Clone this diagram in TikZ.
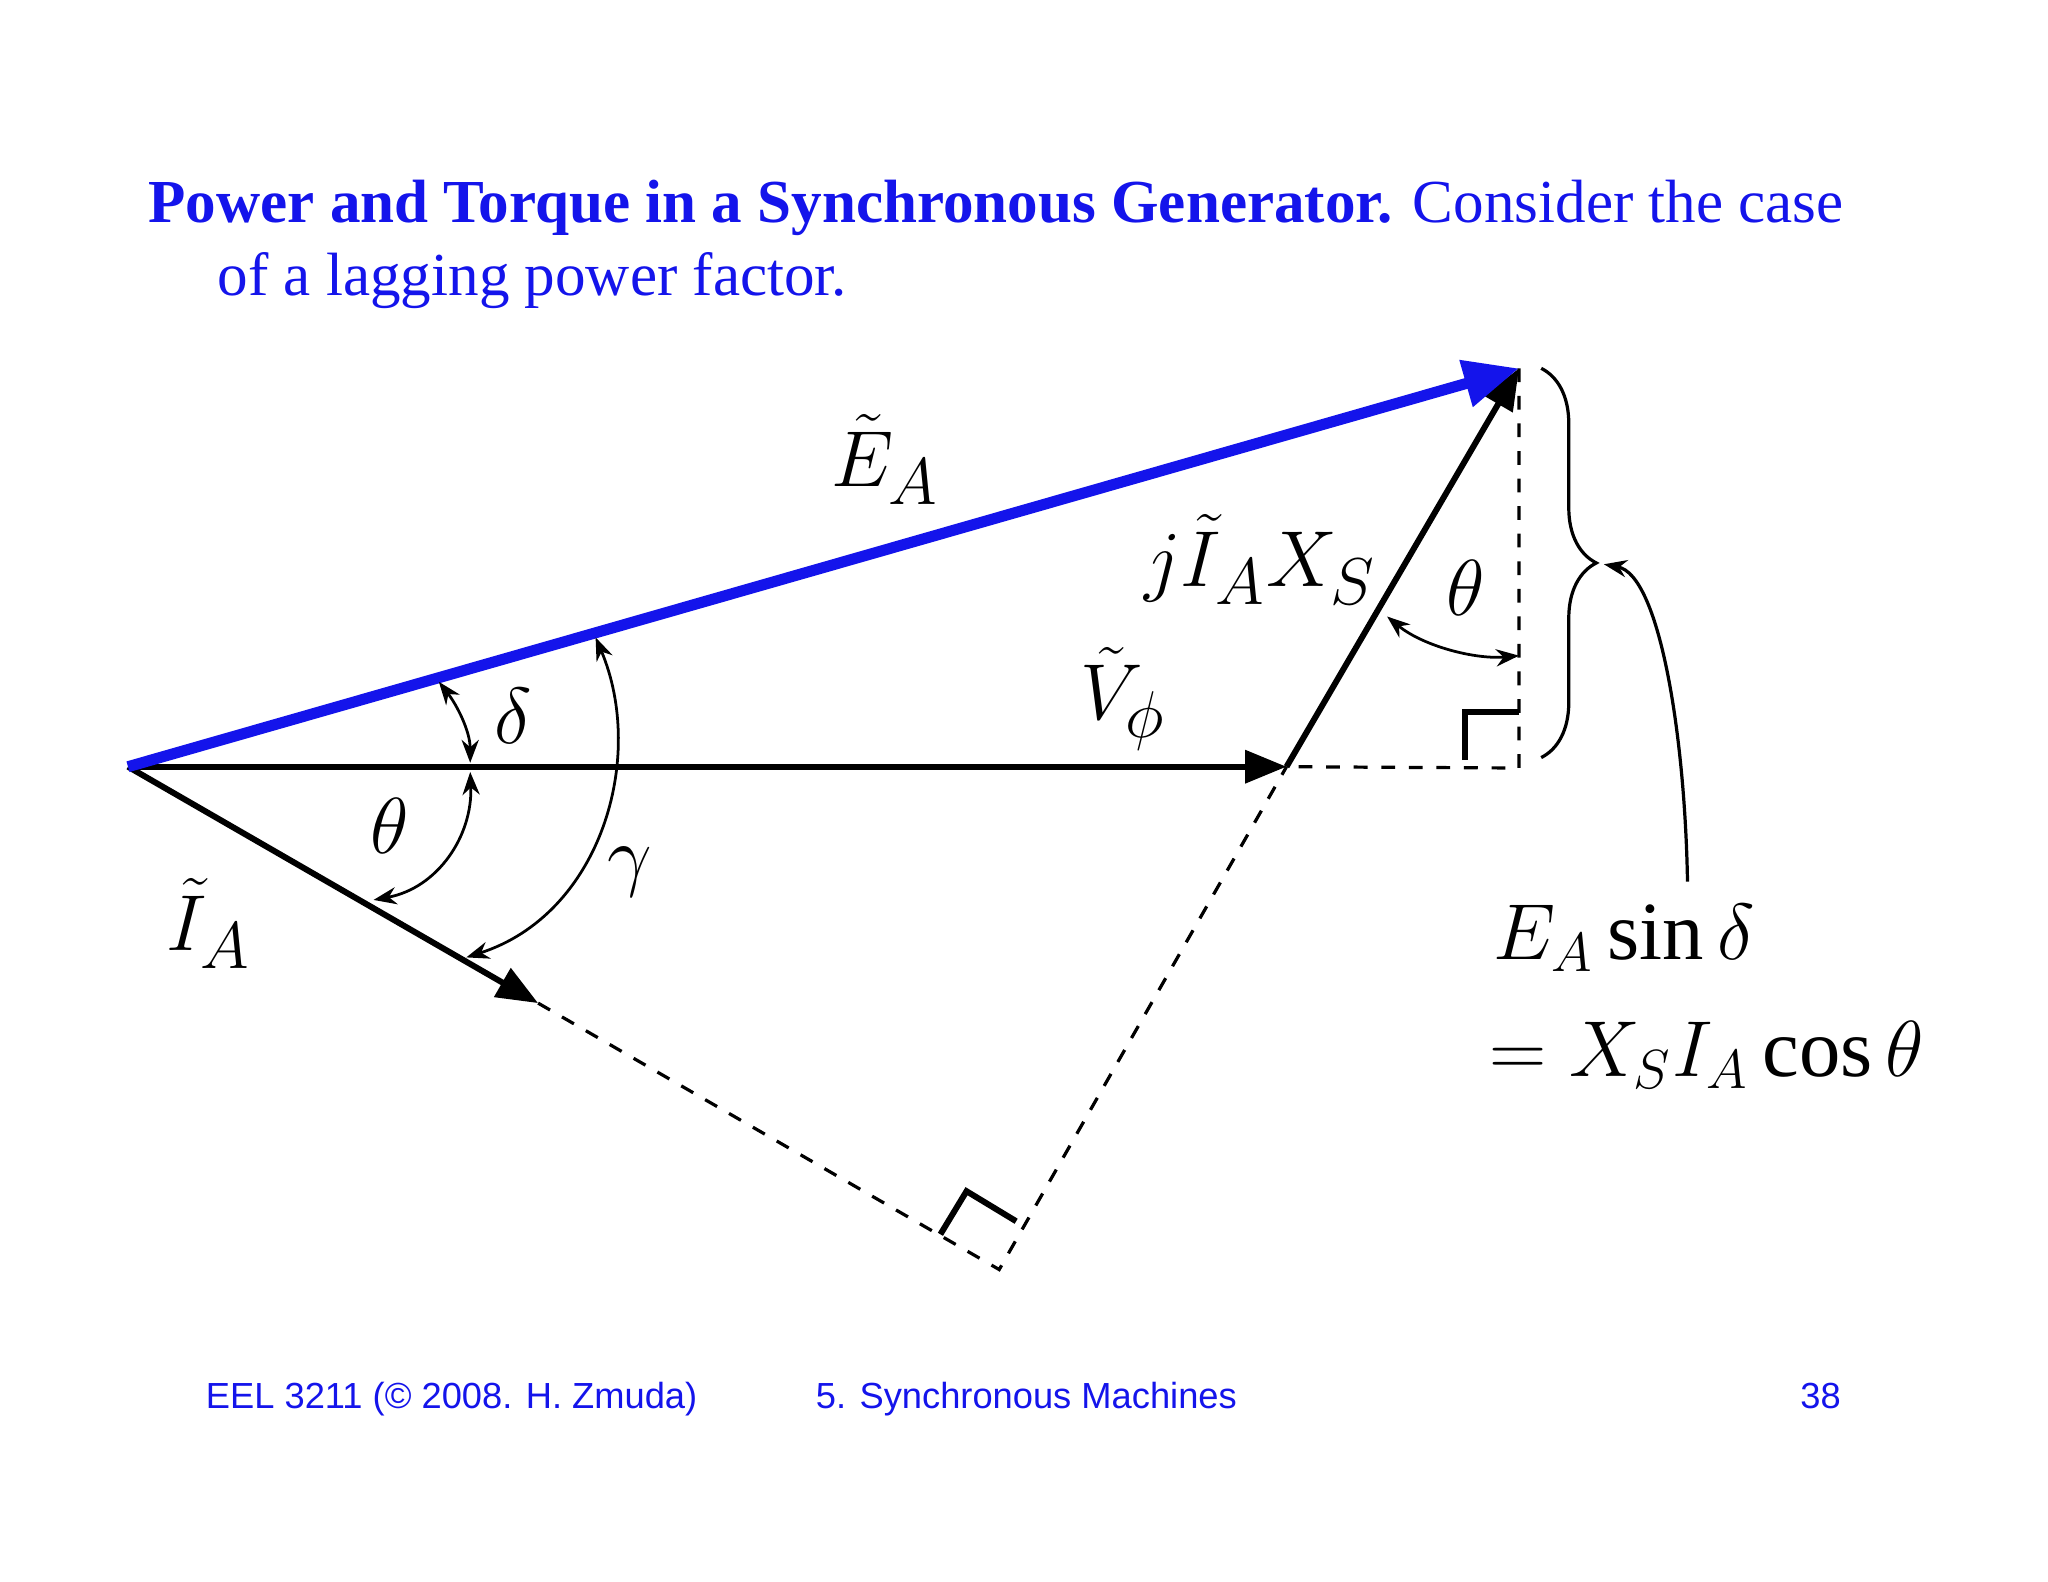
\documentclass[tikz,border=0pt]{standalone}
\usepackage{fontspec}
\setmainfont{Liberation Serif}
\setsansfont{Liberation Sans}
\usetikzlibrary{arrows.meta,decorations.pathreplacing}
\definecolor{tblue}{RGB}{20,20,235}
\begin{document}
\begin{tikzpicture}[x=0.01cm,y=-0.01cm,
  vec/.style={line width=1.3pt,-{Triangle[length=9pt,width=7pt]}},
  dashline/.style={dashed,line width=0.7pt},
  ang/.style={line width=0.6pt,{Stealth[length=5pt]}-{Stealth[length=5pt]}},
  lbl/.style={font=\fontsize{19}{21}\selectfont,inner sep=0pt}]
\useasboundingbox (0,0) rectangle (1568,1211);
\fill[white] (0,0) rectangle (1568,1211);
\node[anchor=base west,inner sep=0pt,text=tblue,font=\fontsize{13.3}{16}\selectfont] (t1) at (113,170) {\textbf{Power and Torque in a Synchronous Generator.} Consider the case};
\node[anchor=base west,inner sep=0pt,text=tblue,font=\fontsize{13.3}{16}\selectfont] (t2) at (166,226) {of a lagging power factor.};
\coordinate (O) at (98,587);
\coordinate (V) at (985,587);
\coordinate (E) at (1163,282);
\coordinate (I) at (412,768);
\coordinate (P) at (765,972);
\coordinate (C) at (1163,588);
\draw[dashline] (I) -- (P) -- (V);
\draw[dashline] (E) -- (C) -- (V);
\draw[line width=1.3pt] (720,945) -- (740,912) -- (778,935);
\draw[line width=1.3pt] (1122,582) -- (1122,545) -- (1163,545);
\draw[vec] (O) -- (V);
\draw[vec] (O) -- (I);
\draw[vec] (V) -- (E);
\draw[line width=2.4pt,tblue,-{Triangle[length=12pt,width=10pt]}] (O) -- (E);
% angles
\coordinate (d1) at (336,522); \coordinate (d2) at (360,584);
\coordinate (h1) at (360,591); \coordinate (h2) at (286,689);
\coordinate (g1) at (456,488); \coordinate (g2) at (357,733);
\coordinate (k1) at (1062,472); \coordinate (k2) at (1163,502);
\draw[ang] (d1) .. controls (350,540) and (360,560) .. (d2);
\draw[ang] (h1) .. controls (362,640) and (335,680) .. (h2);
\draw[ang] (g1) .. controls (495,580) and (460,700) .. (g2);
\draw[ang] (k1) .. controls (1090,495) and (1130,505) .. (k2);
% brace
\draw[line width=0.7pt,decorate,decoration={brace,amplitude=12pt}] (1180,282) -- (1180,580);
\coordinate (bt) at (1228,432);
\coordinate (lb) at (1292,675);
\draw[line width=0.7pt,-{Stealth[length=5pt]}] (lb) .. controls (1290,560) and (1270,440) .. (bt);
\node[lbl] (eA) at (678,352) {$\tilde{E}_A$};
\node[lbl] (jx) at (965,428) {$j\tilde{I}_A X_S$};
\node[lbl] (th1) at (1122,450) {$\theta$};
\node[lbl] (vp) at (860,535) {$\tilde{V}_\phi$};
\node[lbl] (de) at (393,548) {$\delta$};
\node[lbl] (th2) at (298,632) {$\theta$};
\node[lbl] (ga) at (482,668) {$\gamma$};
\node[lbl] (iA) at (160,707) {$\tilde{I}_A$};
\node[lbl,anchor=west,font=\fontsize{18}{20}\selectfont] (f1) at (1143,718) {$E_A\sin\delta$};
\node[lbl,anchor=west,font=\fontsize{18}{20}\selectfont] (f2) at (1140,808) {$=X_S I_A\cos\theta$};
\node[anchor=base west,inner sep=0pt,text=tblue,font=\sffamily\fontsize{7.9}{10}\selectfont] (ft1) at (157,1078) {EEL 3211 (© 2008. H. Zmuda)};
\node[anchor=base west,inner sep=0pt,text=tblue,font=\sffamily\fontsize{7.9}{10}\selectfont] (ft2) at (624,1078) {5. Synchronous Machines};
\node[anchor=base east,inner sep=0pt,text=tblue,font=\sffamily\fontsize{7.9}{10}\selectfont] (ft3) at (1410,1078) {38};
\end{tikzpicture}
\end{document}
